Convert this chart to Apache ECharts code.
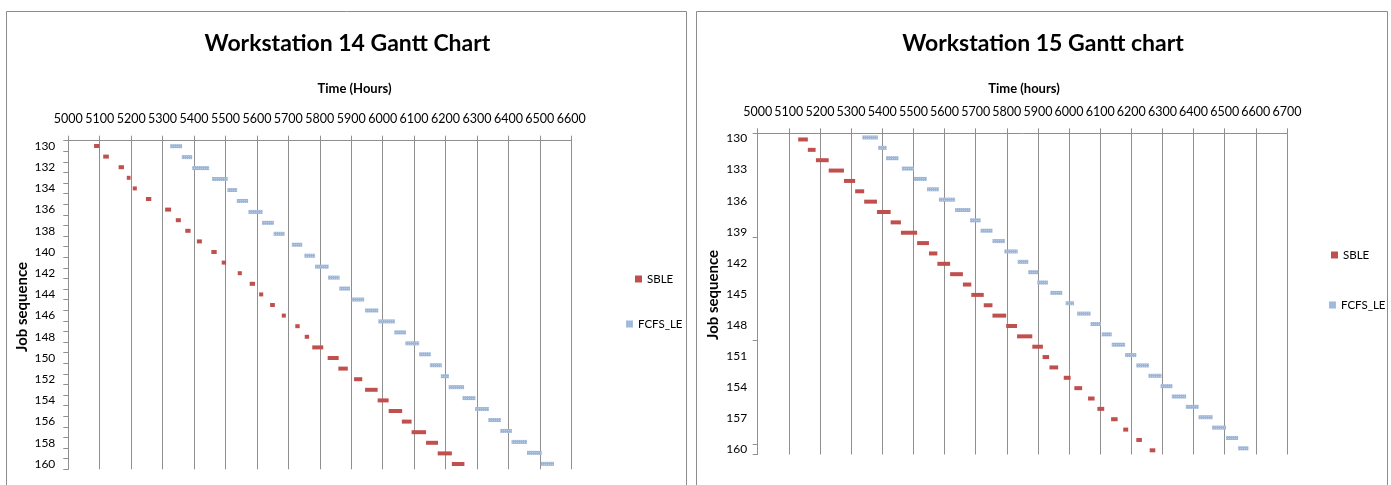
<!DOCTYPE html>
<html>
<head>
<meta charset="utf-8">
<title>Workstation Gantt Charts</title>
<script src="https://cdn.jsdelivr.net/npm/echarts@6/dist/echarts.min.js"></script>
<style>
  html, body { margin: 0; padding: 0; background: #ffffff; }
  #chart { width: 1391px; height: 485px; }
</style>
</head>
<body>
<div id="chart"></div>
<script>
// ---- Workstation 14 (hours) ----
const ws14Jobs = ['130','131','132','133','134','135','136','137','138','139','140','141','142','143','144','145',
                  '146','147','148','149','150','151','152','153','154','155','156','157','158','159','160'];
const ws14SbleStart = [5082,5111,5160,5186,5205,5247,5308,5342,5372,5409,5455,5488,5539,5577,5607,5642,
                       5679,5722,5752,5776,5825,5859,5909,5944,5984,6019,6061,6092,6138,6175,6220];
const ws14SbleEnd   = [5099,5129,5177,5198,5218,5264,5327,5358,5389,5425,5472,5502,5552,5594,5620,5657,
                       5692,5736,5766,5811,5860,5889,5935,5984,6019,6062,6092,6138,6176,6220,6260];
// FCFS_LE rows sit on their own (secondary) category scale
const ws14FcfsRows  = ['130','131','132','133','134','135','136','137','138','139','140','141','142','143','144',
                       '145','146','147','148','149','150','151','152','153','154','155','156','157','158','159'];
const ws14FcfsStart = [5324,5361,5394,5457,5506,5536,5573,5616,5653,5711,5751,5785,5826,5862,5901,
                       5944,5986,6037,6072,6116,6150,6185,6210,6254,6294,6336,6374,6410,6459,6503];
const ws14FcfsEnd   = [5362,5394,5448,5507,5537,5572,5618,5654,5688,5744,5785,5828,5863,5896,5941,
                       5986,6039,6074,6116,6153,6188,6211,6259,6295,6338,6376,6411,6459,6506,6545];
const ws14TimeRange = [5000, 6600];

// ---- Workstation 15 (hours) ----
const ws15Jobs = ['130','131','132','133','134','135','136','137','138','139','140','141','142','143','144','145',
                  '146','147','148','149','150','151','152','153','154','155','156','157','158','159','160'];
const ws15SbleStart = [5130,5161,5187,5228,5277,5313,5342,5383,5427,5460,5512,5550,5577,5618,5659,5686,
                       5726,5754,5798,5833,5882,5915,5937,5983,6017,6061,6091,6135,6174,6216,6259];
const ws15SbleEnd   = [5161,5186,5228,5277,5313,5342,5383,5427,5460,5512,5550,5577,5618,5659,5686,5726,
                       5754,5798,5833,5882,5916,5936,5965,6005,6042,6082,6113,6156,6190,6234,6277];
const ws15FcfsStart = [5336,5387,5412,5463,5502,5544,5582,5634,5682,5716,5754,5792,5835,5869,5898,5940,
                       5989,6026,6069,6105,6137,6180,6216,6255,6294,6330,6375,6416,6459,6504,6543];
const ws15FcfsEnd   = [5386,5414,5452,5502,5543,5582,5634,5683,5716,5754,5794,5835,5869,5901,5932,5978,
                       6016,6069,6102,6137,6180,6216,6257,6297,6332,6376,6416,6461,6504,6543,6576];
const ws15TimeRange = [5000, 6700];
const timeStep = 100;

// ---- styling ----
const FONT = 'Lato, "Open Sans", sans-serif';
const RED = '#C0504D';
const BLUE = '#98B5DC';
const LINE = '#8f8f8f';
const blueDecal = { symbol: 'rect', symbolSize: 1, color: 'rgba(255,255,255,0.3)',
                    dashArrayX: [1, 1], dashArrayY: [1, 1], rotation: 0 };

function timeAxis(gridIndex, range) {
  return {
    type: 'value', gridIndex: gridIndex, position: 'top',
    min: range[0], max: range[1], interval: timeStep,
    axisLine: { show: true, onZero: false, lineStyle: { color: LINE, width: 1 } },
    axisTick: { show: true, length: 5, lineStyle: { color: LINE } },
    axisLabel: { show: true, margin: 15, color: '#000', fontFamily: FONT, fontSize: 12.5,
                 showMinLabel: true, showMaxLabel: true, hideOverlap: false,
                 formatter: function (v) { return String(v); } },
    splitLine: { show: true, lineStyle: { color: LINE, width: 1 } }
  };
}

function jobAxis(gridIndex, jobs, labelEvery, tickEvery, margin) {
  return {
    type: 'category', gridIndex: gridIndex, data: jobs, inverse: true, position: 'left',
    axisLine: { show: true, onZero: false, lineStyle: { color: LINE, width: 1 } },
    axisTick: { show: true, interval: tickEvery - 1, length: 5, alignWithLabel: false,
                lineStyle: { color: LINE } },
    axisLabel: { show: true, interval: labelEvery - 1, margin: margin, color: '#000',
                 fontFamily: FONT, fontSize: 12 },
    splitLine: { show: false }
  };
}

// each job is drawn as a transparent lead-in bar (start) stacked with a visible bar (duration)
function ganttSeries(name, color, xi, yi, starts, ends, stack, extraStyle, gap) {
  const common = { type: 'bar', stack: stack, xAxisIndex: xi, yAxisIndex: yi, barWidth: 4,
                   barGap: gap, animation: false };
  return [
    Object.assign({}, common, {
      name: name + ' start', data: starts, silent: true,
      itemStyle: { color: 'rgba(0,0,0,0)' }, emphasis: { disabled: true }
    }),
    Object.assign({}, common, {
      name: name, data: ends.map((e, i) => e - starts[i]),
      itemStyle: Object.assign({ color: color }, extraStyle || {})
    })
  ];
}

function legendItem(name, left, top) {
  return {
    data: [name], orient: 'vertical', left: left, top: top, padding: 0,
    icon: 'rect', itemWidth: 7, itemHeight: 7, selectedMode: false,
    textStyle: { fontFamily: FONT, fontSize: 11.5, color: '#000' }
  };
}

function heading(text, x, y, size) {
  return {
    text: text, left: x, top: y, textAlign: 'center', textVerticalAlign: 'middle', padding: 0,
    textStyle: { fontFamily: FONT, fontSize: size, fontWeight: 'bold', color: '#000' }
  };
}

const option = {
  animation: false,
  backgroundColor: '#ffffff',
  title: [
    heading('Workstation 14 Gantt Chart', 347.5, 44, 23),
    heading('Time (Hours)', 354.5, 89, 13),
    heading('Workstation 15 Gantt chart', 1043, 44, 23),
    heading('Time (hours)', 1024, 88.5, 13)
  ],
  legend: [
    legendItem('SBLE', 635, 273),
    legendItem('FCFS_LE', 626, 318),
    legendItem('SBLE', 1331, 249),
    legendItem('FCFS_LE', 1329, 299)
  ],
  grid: [
    { left: 68.3, top: 140.7, width: 503, height: 328.6, containLabel: false, outerBoundsMode: 'none' },
    { left: 757.7, top: 133.3, width: 529.3, height: 321.2, containLabel: false, outerBoundsMode: 'none' }
  ],
  xAxis: [
    timeAxis(0, ws14TimeRange),
    timeAxis(1, ws15TimeRange)
  ],
  yAxis: [
    jobAxis(0, ws14Jobs, 2, 1, 13),
    { type: 'category', gridIndex: 0, data: ws14FcfsRows, inverse: true, show: false },
    jobAxis(1, ws15Jobs, 3, 10, 10.5)
  ],
  series: [].concat(
    ganttSeries('SBLE', RED, 0, 0, ws14SbleStart, ws14SbleEnd, 'ws14sble'),
    ganttSeries('FCFS_LE', BLUE, 0, 1, ws14FcfsStart, ws14FcfsEnd, 'ws14fcfs', { decal: blueDecal }),
    ganttSeries('FCFS_LE', BLUE, 1, 2, ws15FcfsStart, ws15FcfsEnd, 'ws15fcfs', { decal: blueDecal }, '-50%'),
    ganttSeries('SBLE', RED, 1, 2, ws15SbleStart, ws15SbleEnd, 'ws15sble', null, '-50%')
  ),
  graphic: [
    { type: 'rect', silent: true, z: -10,
      shape: { x: 6.5, y: 11.5, width: 680, height: 490 },
      style: { fill: 'none', stroke: '#8c8c8c', lineWidth: 1 } },
    { type: 'rect', silent: true, z: -10,
      shape: { x: 696.5, y: 11.5, width: 691, height: 490 },
      style: { fill: 'none', stroke: '#8c8c8c', lineWidth: 1 } },
    { type: 'text', x: 22, y: 307, rotation: Math.PI / 2, silent: true,
      style: { text: 'Job sequence', fontFamily: FONT, fontSize: 15, fontWeight: 'bold', fill: '#000',
               align: 'center', verticalAlign: 'middle' } },
    { type: 'text', x: 713, y: 295, rotation: Math.PI / 2, silent: true,
      style: { text: 'Job sequence', fontFamily: FONT, fontSize: 15, fontWeight: 'bold', fill: '#000',
               align: 'center', verticalAlign: 'middle' } }
  ]
};

const chart = echarts.init(document.getElementById('chart'), null, { renderer: 'canvas' });
chart.setOption(option);
</script>
</body>
</html>
